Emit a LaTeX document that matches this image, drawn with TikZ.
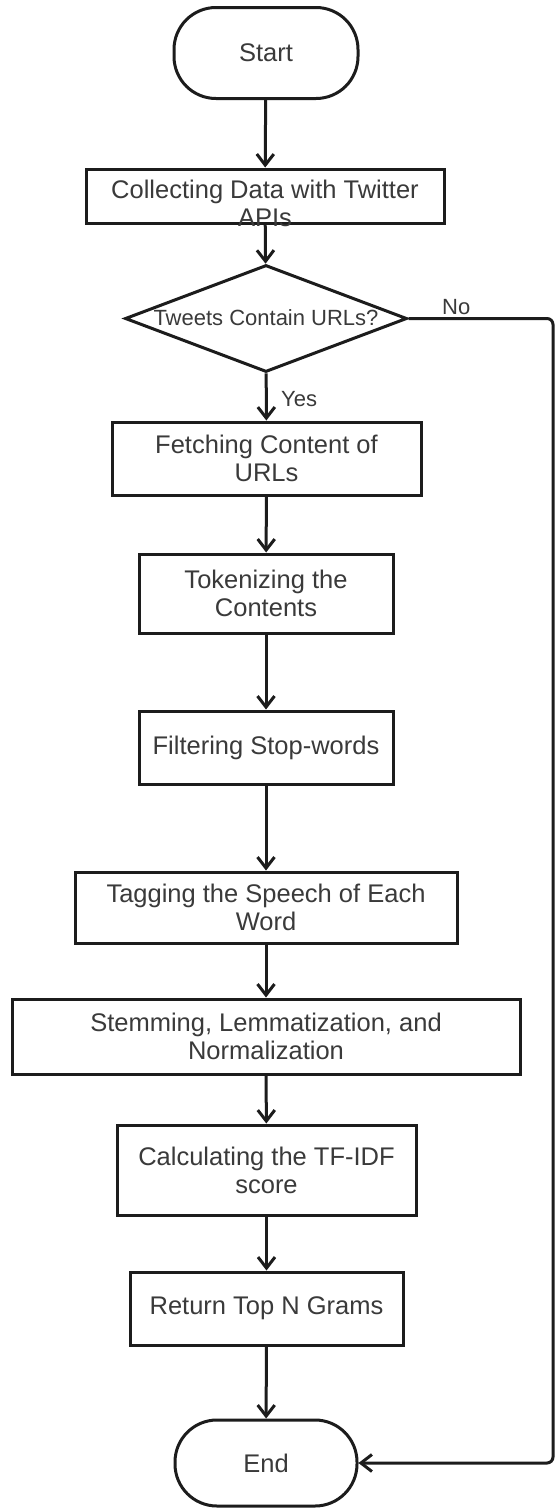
\documentclass[tikz,border=0pt]{standalone}
\usepackage{fontspec}
\setmainfont{Liberation Sans}
\usetikzlibrary{shapes.geometric,arrows.meta}
\definecolor{ink}{HTML}{1C1C1C}
\definecolor{txt}{HTML}{3A3A3A}
\begin{document}
\begin{tikzpicture}[x=1pt,y=-1pt,
  every node/.style={text=txt,font=\fontsize{25.5}{28}\selectfont,align=center},
  terminal/.style={draw=ink,line width=3pt,rounded corners=42pt,inner sep=0pt},
  stepbox/.style={draw=ink,line width=3pt,rectangle,inner sep=0pt},
  decision/.style={draw=ink,line width=3pt,diamond,inner sep=0pt},
  flow/.style={draw=ink,line width=3pt,-{Straight Barb[length=11pt,width=17pt,line width=3pt]}},
  lbl/.style={font=\fontsize{22}{26}\selectfont}]
\useasboundingbox (0,0) rectangle (556,1508);
\fill[white] (0,0) rectangle (556,1508);

% terminals, process boxes and the single decision
\node[terminal,minimum width=184pt,minimum height=91pt] (start) at (266,53) {Start};
\node[stepbox,minimum width=358pt,minimum height=54pt] (collect) at (265,196) {};
\node at (265,203) {Collecting Data with Twitter\\APIs};
\node[decision,minimum width=282pt,minimum height=107pt] (urls) at (266,318.5) {};
\node[lbl] at (266,318) {Tweets Contain URLs?};
\node[stepbox,minimum width=309pt,minimum height=73pt] (fetch) at (266.5,458.5) {Fetching Content of\\URLs};
\node[stepbox,minimum width=254pt,minimum height=79pt] (token) at (266,593.5) {Tokenizing the\\Contents};
\node[stepbox,minimum width=254pt,minimum height=73pt] (filter) at (266,747.5) {Filtering Stop-words};
\node[stepbox,minimum width=382pt,minimum height=71pt] (tag) at (266,907.5) {Tagging the Speech of Each\\Word};
\node[stepbox,minimum width=508pt,minimum height=75pt] (stem) at (266,1036.5) {Stemming, Lemmatization, and\\Normalization};
\node[stepbox,minimum width=299pt,minimum height=90pt] (tfidf) at (266.5,1170) {Calculating the TF-IDF\\score};
\node[stepbox,minimum width=273pt,minimum height=73pt] (top) at (266.5,1308.5) {Return Top N Grams};
\node[terminal,minimum width=182pt,minimum height=86pt] (end) at (266,1463) {End};

% corners of the "No" bypass on the right edge
\coordinate (nr) at (553,318.5);
\coordinate (er) at (553,1463);

\draw[flow] (start) -- (collect);
\draw[flow] (collect) -- (urls);
\draw[flow] (urls) -- node[lbl,right,xshift=10pt,yshift=-2pt] {Yes} (fetch);
\draw[flow] (fetch) -- (token);
\draw[flow] (token) -- (filter);
\draw[flow] (filter) -- (tag);
\draw[flow] (tag) -- (stem);
\draw[flow] (stem) -- (tfidf);
\draw[flow] (tfidf) -- (top);
\draw[flow] (top) -- (end);
\draw[flow,rounded corners=6pt] (urls.east) -- node[lbl,above,pos=0.33,yshift=-1pt] {No} (nr) -- (er) -- (end.east);
\end{tikzpicture}
\end{document}
